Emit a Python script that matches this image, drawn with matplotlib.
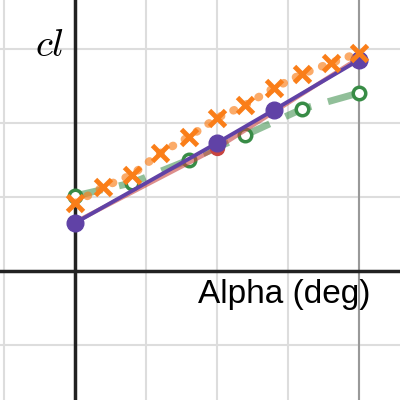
import matplotlib.pyplot as plt
import numpy as np

# lift coefficient vs angle of attack
alpha_purple = [0, 5, 7, 10]
cl_purple = [0.324, 0.865, 1.088, 1.426]

alpha_red = [0, 5, 10]
cl_red = [0.33, 0.83, 1.44]

alpha_orange = [0, 1, 2, 3, 4, 5, 6, 7, 8, 9, 10]
cl_orange = [0.459, 0.568, 0.649, 0.797, 0.905, 1.034, 1.122, 1.236, 1.331, 1.405, 1.473]

alpha_green = [0, 2, 4, 6, 8, 10]
cl_green = [0.507, 0.595, 0.75, 0.919, 1.095, 1.203]

PURPLE = "#6042a6"
RED = "#c74440"
ORANGE = "#fa7e19"
GREEN = "#388c46"

fig = plt.figure(figsize=(4, 4), dpi=100)
ax = fig.add_axes([0, 0, 1, 1])
ax.set_xlim(-2.64, 11.44)
ax.set_ylim(-0.872, 1.831)

# grid
for gx in np.arange(-2.5, 12, 2.5):
    ax.axvline(gx, color="#dddddd", lw=1.5, zorder=0)
for gy in np.arange(-0.5, 2.0, 0.5):
    ax.axhline(gy, color="#dddddd", lw=1.5, zorder=0)
ax.axvline(10, color="#999999", lw=1.5, zorder=0.5)
ax.axvline(0, color="#222222", lw=2.5, zorder=1)
ax.axhline(0, color="#222222", lw=2.5, zorder=1)

# green dashed series
ax.plot(alpha_green, cl_green, color=GREEN, lw=5, alpha=0.55,
        linestyle=(0, (4, 2.5)), zorder=2)
ax.plot(alpha_green, cl_green, "o", ms=9, mfc="white", mec=GREEN, mew=2.5,
        zorder=3)

# red series (mostly hidden under purple)
ax.plot(alpha_red, cl_red, color=RED, lw=3, alpha=0.6, zorder=3.5)
ax.plot(alpha_red[1:2], cl_red[1:2], "o", color=RED, ms=10, zorder=3.6)

# purple series
ax.plot(alpha_purple, cl_purple, color=PURPLE, lw=2.8, zorder=4)
ax.plot(alpha_purple, cl_purple, "o", color=PURPLE, ms=12, zorder=4.5)

# orange dotted series
ax.plot(alpha_orange, cl_orange, color=ORANGE, lw=6, alpha=0.65,
        linestyle=(0, (0.1, 1.6)), dash_capstyle="round", zorder=5)
ax.plot(alpha_orange, cl_orange, "x", color=ORANGE, ms=12, mew=3.5, zorder=6)

ax.text(-0.4, 1.45, "$cl$", fontsize=28, ha="right", va="baseline",
        math_fontfamily="cm", zorder=7)
ax.text(10.4, -0.215, "Alpha (deg)", fontsize=24, ha="right", va="baseline",
        family="Liberation Sans", zorder=7)

ax.axis("off")
fig.savefig("out.png", dpi=100)
